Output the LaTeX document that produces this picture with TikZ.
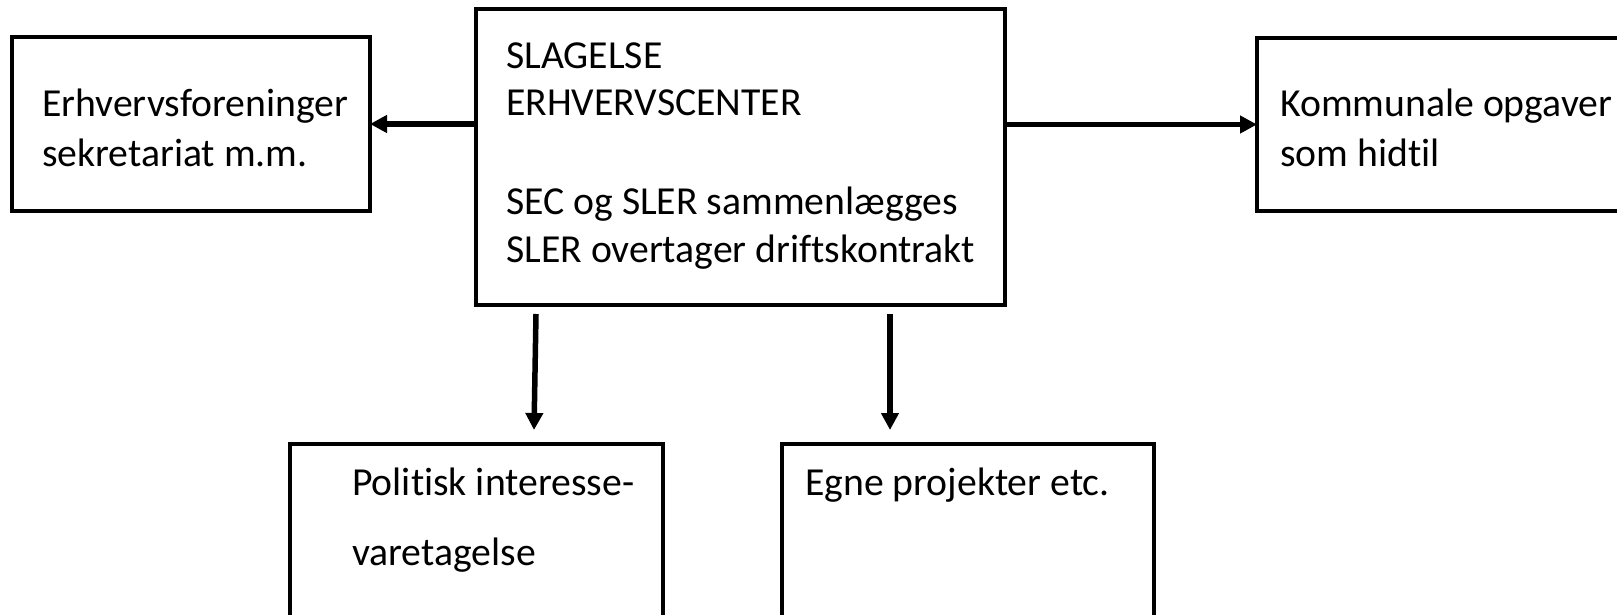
\documentclass[tikz,border=0pt]{standalone}
\usepackage{fontspec}
\setmainfont{Carlito}[Ligatures={NoCommon}]
\usetikzlibrary{arrows.meta}
\begin{document}
\begin{tikzpicture}[x=1pt,y=-1pt,
  box/.style={draw, line width=3.5pt, anchor=north west, inner sep=0pt, outer sep=0pt},
  lbl/.style={anchor=base west, inner sep=0pt, font=\fontsize{39.7}{47}\selectfont},
  arr/.style={line width=5.5pt, -{Triangle[length=17pt,width=17pt]}}]
\useasboundingbox (0,0) rectangle (1617,615);
\clip (0,0) rectangle (1617,615);
% boxes
\node[box, minimum width=358pt, minimum height=174pt] (left) at (12,37) {};
\node[box, minimum width=529pt, minimum height=296pt] (center) at (476,9) {};
\node[box, minimum width=400pt, minimum height=173pt] (right) at (1257,38) {};
\node[box, minimum width=373pt, minimum height=250pt] (bl) at (290,444) {};
\node[box, minimum width=372pt, minimum height=250pt] (br) at (782,444) {};
% texts
\node[lbl] (t1) at (42,117) {Erhvervsforeninger};
\node[lbl] (t2) at (42,166) {sekretariat m.m.};
\node[lbl] (c1) at (506,69) {SLAGELSE};
\node[lbl] (c2) at (506,116) {ERHVERVSCENTER};
\node[lbl] (c3) at (506,214) {SEC og SLER sammenlægges};
\node[lbl] (c4) at (506,262) {SLER overtager driftskontrakt};
\node[lbl] (r1) at (1280,117) {Kommunale opgaver};
\node[lbl] (r2) at (1280,166) {som hidtil};
\node[lbl] (b1) at (352,495) {Politisk interesse-};
\node[lbl] (b2) at (352,565) {varetagelse};
\node[lbl] (e1) at (805,495) {Egne projekter etc.};
% connectors
\coordinate (d1s) at (536,314);
\coordinate (d1e) at (534,430);
\coordinate (d2s) at (890,314);
\coordinate (d2e) at (890,430);
\draw[arr] (center.west |- left.east) -- (left.east);
\draw[arr] (center.east |- right.west) -- (right.west);
\draw[arr] (d1s) -- (d1e);
\draw[arr] (d2s) -- (d2e);
\end{tikzpicture}
\end{document}
